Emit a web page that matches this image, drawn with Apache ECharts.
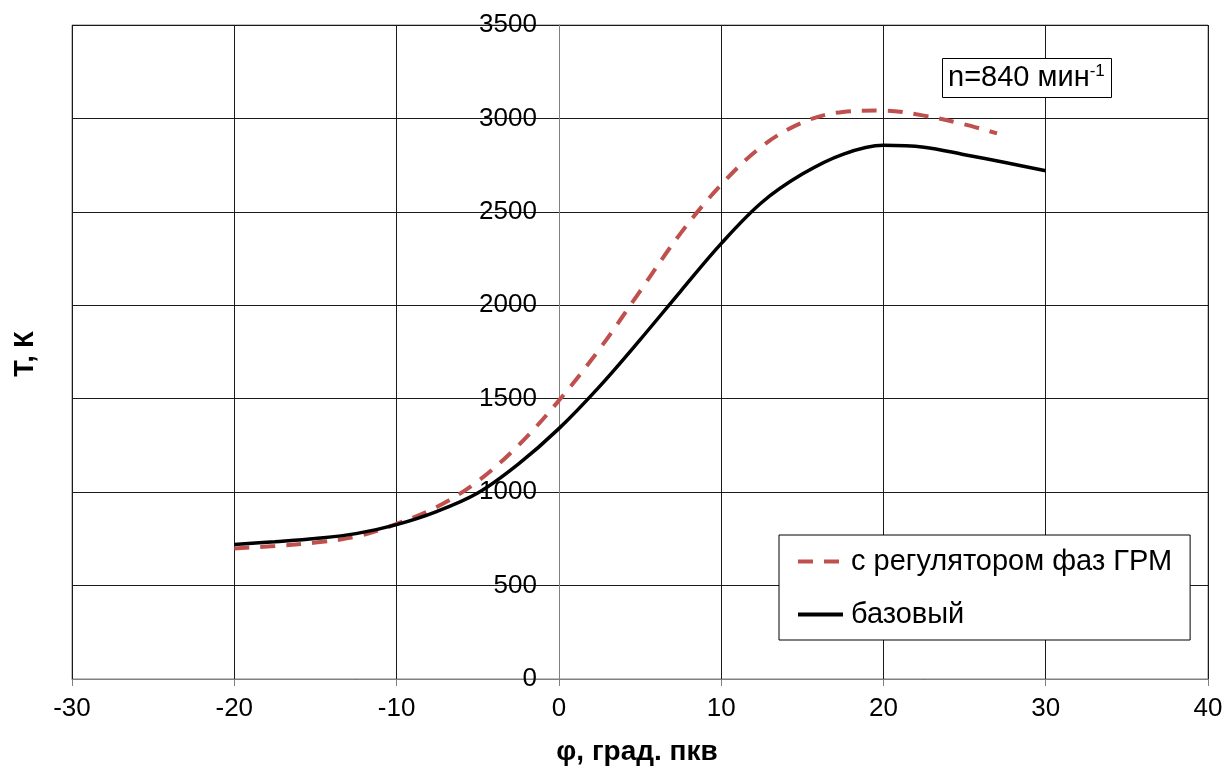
<!DOCTYPE html>
<html>
<head>
<meta charset="utf-8">
<script src="https://cdn.jsdelivr.net/npm/echarts@6/dist/echarts.min.js"></script>
<style>
html,body{margin:0;padding:0;background:#fff;}
#chart{width:1227px;height:767px;}
</style>
</head>
<body>
<div id="chart"></div>
<script>
// Data
const phiBase = [-20, -17.5, -15, -12.5, -10, -7.5, -5, -2.5, 0, 2.5, 5, 7.5, 10, 12.5, 15, 17.5, 20, 22.5, 25, 27.5, 30];
const tBase   = [720, 735, 752, 778, 826, 897, 995, 1150, 1340, 1565, 1815, 2075, 2330, 2550, 2702, 2808, 2856, 2846, 2806, 2764, 2720];
const phiVvt  = [-20, -17.5, -15, -12.5, -10, -7.5, -5, -2.5, 0, 2.5, 5, 7.5, 10, 12.5, 15, 17.5, 20, 22.5, 25, 27];
const tVvt    = [699, 712, 730, 762, 830, 922, 1058, 1250, 1490, 1765, 2075, 2385, 2645, 2850, 2978, 3035, 3042, 3015, 2968, 2920];
const seriesNames = ['с регулятором фаз ГРМ', 'базовый'];
const xTicks = {min: -30, max: 40, step: 10};
const yTicks = {min: 0, max: 3500, step: 500};
const xTitle = 'φ, град. пкв';
const yTitle = 'Т, К';
const noteMain = 'n=840 мин';
const noteSup = '-1';

const zip = (a, b) => a.map((v, i) => [v, b[i]]);
const FONT = '"Liberation Sans", Arial, sans-serif';

const GRID = {left: 72, right: 19, top: 25, bottom: 88};
const plotW = 1227 - GRID.left - GRID.right;
const zeroX = GRID.left + plotW * (0 - xTicks.min) / (xTicks.max - xTicks.min);

const chart = echarts.init(document.getElementById('chart'), null, {renderer: 'canvas'});
chart.setOption({
  animation: false,
  backgroundColor: '#fff',
  grid: Object.assign({show: true, borderColor: '#808080', borderWidth: 1, containLabel: false, outerBoundsMode: 'none'}, GRID),
  xAxis: {
    type: 'value', min: xTicks.min, max: xTicks.max, interval: xTicks.step,
    axisLine: {show: true, onZero: false, lineStyle: {color: '#808080', width: 1}},
    axisTick: {show: true, length: 7, inside: false, lineStyle: {color: '#808080'}},
    axisLabel: {color: '#000', fontSize: 26, fontFamily: FONT, margin: 17},
    splitLine: {show: true, lineStyle: {color: '#1a1a1a', width: 1}}
  },
  yAxis: {
    type: 'value', min: yTicks.min, max: yTicks.max, interval: yTicks.step,
    position: 'left', offset: -(zeroX - GRID.left),
    axisLine: {show: true, onZero: false, lineStyle: {color: '#808080', width: 1}},
    axisTick: {show: false},
    axisLabel: {color: '#000', fontSize: 26, fontFamily: FONT, margin: 22, formatter: v => String(v)},
    splitLine: {show: true, lineStyle: {color: '#1a1a1a', width: 1}}
  },
  legend: {
    orient: 'vertical', left: 779, top: 535,
    backgroundColor: '#fff', borderColor: '#000', borderWidth: 1,
    padding: [12, 18, 11, 17],
    itemWidth: 45, itemHeight: 28, itemGap: 24,
    itemStyle: {opacity: 0, color: 'rgba(0,0,0,0)', borderWidth: 0},
    lineStyle: {width: 4},
    textStyle: {color: '#000', fontSize: 29, fontFamily: FONT, padding: [0, 0, 0, 3]},
    data: seriesNames
  },
  title: {
    text: noteMain + '{sup|' + noteSup + '}',
    left: 942, top: 58,
    borderColor: '#000', borderWidth: 1, backgroundColor: '#fff',
    padding: [5, 7, 4, 6],
    textStyle: {
      color: '#000', fontSize: 29, fontWeight: 'normal', fontFamily: FONT, lineHeight: 29,
      rich: {sup: {fontSize: 17, fontFamily: FONT, color: '#000', verticalAlign: 'top', lineHeight: 29, padding: [0, 0, 14, 0]}}
    }
  },
  graphic: [
    {type: 'text', x: 637, y: 752,
     style: {text: xTitle, font: 'bold 28px ' + FONT, fill: '#000', align: 'center', verticalAlign: 'middle'}},
    {type: 'text', rotation: Math.PI / 2, x: 26, y: 354,
     style: {text: yTitle, font: 'bold 27px ' + FONT, fill: '#000', align: 'center', verticalAlign: 'middle'}}
  ],
  series: [
    {name: seriesNames[0], type: 'line', data: zip(phiVvt, tVvt), smooth: 0.35, symbol: 'none',
     lineStyle: {color: '#C0504D', width: 4, type: [15, 11]}, itemStyle: {color: '#C0504D'}, z: 3},
    {name: seriesNames[1], type: 'line', data: zip(phiBase, tBase), smooth: 0.35, symbol: 'none',
     lineStyle: {color: '#000', width: 3.5}, itemStyle: {color: '#000'}, z: 4}
  ]
});
</script>
</body>
</html>
